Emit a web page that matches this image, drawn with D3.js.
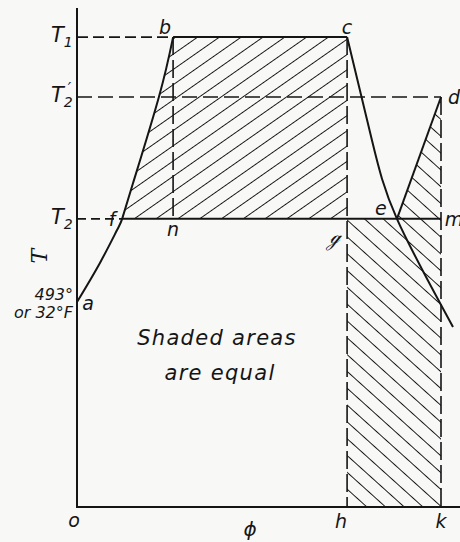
<!DOCTYPE html>
<html>
<head>
<meta charset="utf-8">
<script src="https://cdn.jsdelivr.net/npm/d3@7"></script>
<style>
  html, body { margin: 0; padding: 0; background: #f8f8f7; }
  svg { display: block; }
  text { font-family: "DejaVu Sans", sans-serif; font-style: italic; fill: #151515; }
</style>
</head>
<body>
<div id="chart"></div>
<script>
// temperature levels (deg. absolute F) and entropy positions (phi, k = 1)
var tLevels = [1130, 986, 693];          // T1, T2', T2
var tLevelNames = ["1", "2", "2"];
var tA = 493;                            // freezing point
var phiKeys = [0.264, 0.742, 1.0];       // n/b, c/g/h, d/m/k

// liquid line a - f - b
var curveAFB = [[0, 493], [0.063, 587], [0.110, 666], [0.124, 693], [0.154, 779], [0.225, 986], [0.264, 1130]];
// expansion line c - e (and beyond)
var curveCE = [[0.742, 1130], [0.810, 883], [0.879, 693], [1.033, 433]];
// compression line e - d
var lineED = [[0.879, 693], [1.0, 986]];

var pointNames = ["a", "b", "c", "d", "e", "f", "n", "\u210A", "m", "o", "h", "k"];

document.addEventListener('DOMContentLoaded', function () {
    var width = 460;
    var height = 542;

    var x = d3.scaleLinear().domain([0, 1]).range([77, 441]);
    var y = d3.scaleLinear().domain([0, 1200]).range([507, 8]);

    var T1 = tLevels[0], T2p = tLevels[1], T2 = tLevels[2];
    var phiN = phiKeys[0], phiC = phiKeys[1], phiD = phiKeys[2];
    var f = curveAFB[3], e = curveCE[2];

    var svg = d3.select('#chart')
        .append('svg')
        .attr('width', width)
        .attr('height', height);

    var ink = '#151515';

    // hatch patterns
    var defs = svg.append('defs');
    function hatch(id, angle, gap) {
        var p = defs.append('pattern')
            .attr('id', id)
            .attr('patternUnits', 'userSpaceOnUse')
            .attr('width', 40).attr('height', gap)
            .attr('patternTransform', 'rotate(' + angle + ')');
        p.append('line')
            .attr('x1', 0).attr('x2', 40)
            .attr('y1', gap / 2).attr('y2', gap / 2)
            .style('stroke', ink)
            .style('stroke-width', 1.1);
    }
    hatch('fwd', -35, 12.5);
    hatch('back', 42, 12.5);

    var line = d3.line()
        .x(function(d) { return x(d[0]); })
        .y(function(d) { return y(d[1]); });
    var smooth = d3.line()
        .x(function(d) { return x(d[0]); })
        .y(function(d) { return y(d[1]); })
        .curve(d3.curveNatural);

    // shaded areas
    var area1 = curveAFB.slice(3).concat([[phiC, T1], [phiC, T2]]);
    svg.append('path').attr('d', line(area1) + 'Z').attr('fill', 'url(#fwd)');
    var area2 = [e, lineED[1], [phiD, T2]];
    svg.append('path').attr('d', line(area2) + 'Z').attr('fill', 'url(#back)');
    var area3 = [[phiC, T2], [phiD, T2], [phiD, 0], [phiC, 0]];
    svg.append('path').attr('d', line(area3) + 'Z').attr('fill', 'url(#back)');

    // dashed guides
    var dashed = [
        { pts: [[0, T1], [phiN, T1]], dash: '11,5' },
        { pts: [[0, T2p], [phiD, T2p]], dash: '15,6' },
        { pts: [[0, T2], [f[0], T2]], dash: '9,5' },
        { pts: [[phiN, T1], [phiN, T2]], dash: '18,5' },
        { pts: [[phiC, T1], [phiC, 0]], dash: '18,5' },
        { pts: [[phiD, T2p], [phiD, 0]], dash: '18,5' }
    ];
    svg.selectAll('.dash')
        .data(dashed)
        .enter()
        .append('path')
        .attr('class', 'dash')
        .attr('d', function(d) { return line(d.pts); })
        .attr('fill', 'none')
        .style('stroke', ink)
        .style('stroke-width', 1.6)
        .style('stroke-dasharray', function(d) { return d.dash; });

    // axes
    svg.append('path')
        .attr('d', line([[0, 1200], [0, 0], [x.invert(width), 0]]))
        .attr('fill', 'none')
        .style('stroke', ink)
        .style('stroke-width', 2);

    // solid lines
    var solid = [
        line([[phiN, T1], [phiC, T1]]),
        line([f, [phiD, T2]]),
        smooth(curveAFB),
        smooth(curveCE),
        line(lineED)
    ];
    svg.selectAll('.solid')
        .data(solid)
        .enter()
        .append('path')
        .attr('class', 'solid')
        .attr('d', function(d) { return d; })
        .attr('fill', 'none')
        .style('stroke', ink)
        .style('stroke-width', 2)
        .style('stroke-linejoin', 'round');

    // T labels on the left
    var tl = svg.selectAll('.tlab')
        .data(tLevels)
        .enter()
        .append('text')
        .attr('class', 'tlab')
        .attr('x', 51)
        .attr('y', function(d) { return y(d) + 5; })
        .style('font-size', '21px');
    tl.append('tspan').text('T');
    tl.append('tspan')
        .attr('dy', 5)
        .style('font-size', '14px')
        .text(function(d, i) { return tLevelNames[i]; });
    tl.filter(function(d) { return d === T2p; })
        .append('tspan')
        .attr('dx', -5).attr('dy', -13)
        .style('font-size', '15px')
        .text('\u2032');

    svg.append('text')
        .attr('transform', 'translate(47,' + y(T2 - 90) + ') rotate(-90)')
        .attr('text-anchor', 'middle')
        .style('font-family', '"DejaVu Serif", serif')
        .style('font-size', '22px')
        .text('T');

    svg.append('text')
        .attr('x', 73).attr('y', y(tA) - 2)
        .attr('text-anchor', 'end')
        .style('font-size', '16px')
        .text('493\u00B0');
    svg.append('text')
        .attr('x', 73).attr('y', y(tA) + 16)
        .attr('text-anchor', 'end')
        .style('font-size', '16px')
        .text('or 32\u00B0F');

    // point letters: data position + pixel offset
    var anchors = [
        [0, tA, 11, 8], [phiN, T1, -8, -3], [phiC, T1, 0, -3], [phiD, T2p, 13, 7],
        [e[0], T2, -16, -4], [f[0], T2, -10, 7], [phiN, T2, 0, 17], [phiC, T2, -13, 24],
        [phiD, T2, 13, 7], [0, 0, -3, 20], [phiC, 0, -6, 21], [phiD, 0, 0, 21]
    ];
    svg.selectAll('.pt')
        .data(anchors)
        .enter()
        .append('text')
        .attr('class', 'pt')
        .attr('x', function(d) { return x(d[0]) + d[2]; })
        .attr('y', function(d) { return y(d[1]) + d[3]; })
        .attr('text-anchor', 'middle')
        .style('font-size', '19px')
        .text(function(d, i) { return pointNames[i]; });

    svg.append('text')
        .attr('x', 250).attr('y', 536)
        .attr('text-anchor', 'middle')
        .style('font-size', '20px')
        .text('\u03D5');

    // note
    svg.append('text')
        .attr('x', 217).attr('y', 345)
        .attr('text-anchor', 'middle')
        .style('font-size', '21px')
        .style('letter-spacing', '1.3px')
        .text('Shaded areas');
    svg.append('text')
        .attr('x', 220).attr('y', 380)
        .attr('text-anchor', 'middle')
        .style('font-size', '21px')
        .style('letter-spacing', '1.3px')
        .text('are equal');
});
</script>
</body>
</html>
